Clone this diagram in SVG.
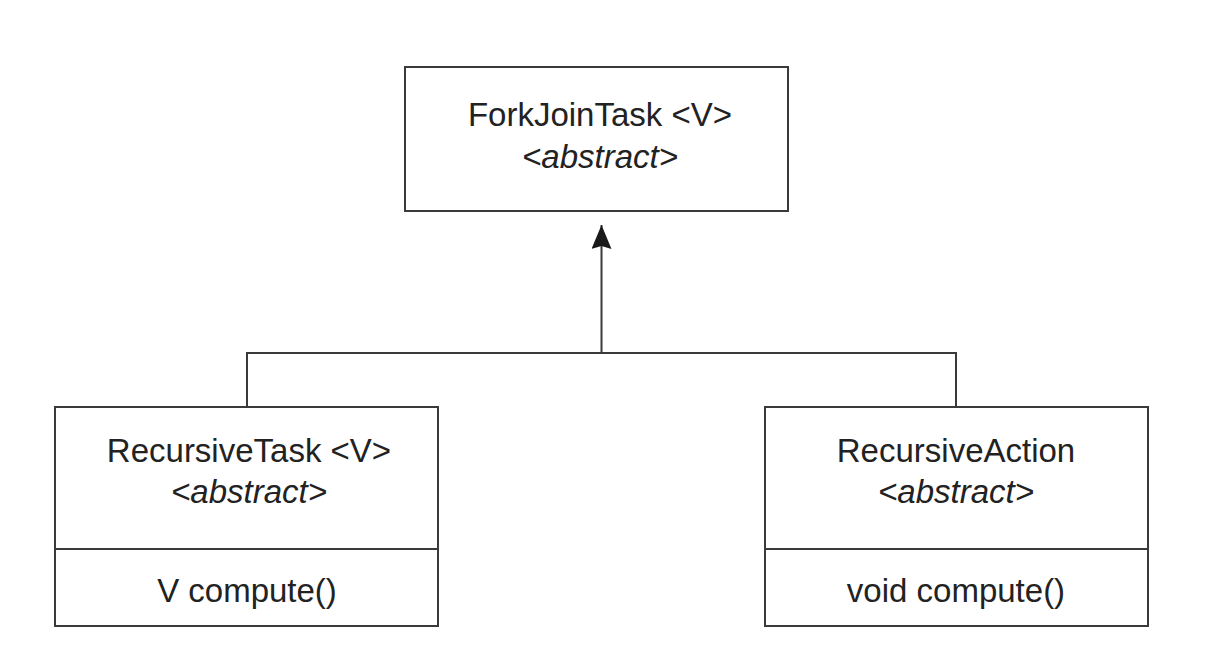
<svg xmlns="http://www.w3.org/2000/svg" width="1214" height="664" viewBox="0 0 1214 664">
<defs>
<style>
.box{fill:#fff;stroke:#3a3a3a;stroke-width:2}
.ln{fill:none;stroke:#3a3a3a;stroke-width:2}
.t{font-family:"Liberation Sans",Arial,sans-serif;font-size:33px;fill:#222;text-anchor:middle}
.i{font-style:italic}
</style>
<marker id="arr" viewBox="0 0 24 20" refX="24" refY="10" markerWidth="24" markerHeight="20" markerUnits="userSpaceOnUse" orient="auto">
<path d="M24,10 L0,0 L3,10 L0,20 Z" fill="#1a1a1a"/>
</marker>
</defs>
<rect width="1214" height="664" fill="#fff"/>
<g id="connectors">
<path class="ln" d="M247,407 V353 H956 V407"/>
<path class="ln" d="M601.5,353 V225" marker-end="url(#arr)"/>
</g>
<g id="ForkJoinTask">
<rect class="box" x="405" y="67" width="383" height="144"/>
<text class="t" x="600" y="126">ForkJoinTask &lt;V&gt;</text>
<text class="t i" x="600" y="168">&lt;abstract&gt;</text>
</g>
<g id="RecursiveTask">
<rect class="box" x="55" y="407" width="383" height="219"/>
<line class="ln" x1="55" y1="549" x2="438" y2="549"/>
<text class="t" x="249" y="462">RecursiveTask &lt;V&gt;</text>
<text class="t i" x="249" y="503">&lt;abstract&gt;</text>
<text class="t" x="247" y="602">V compute()</text>
</g>
<g id="RecursiveAction">
<rect class="box" x="765" y="407" width="383" height="219"/>
<line class="ln" x1="765" y1="549" x2="1148" y2="549"/>
<text class="t" x="956" y="462">RecursiveAction</text>
<text class="t i" x="956" y="503">&lt;abstract&gt;</text>
<text class="t" x="956" y="602">void compute()</text>
</g>
</svg>
